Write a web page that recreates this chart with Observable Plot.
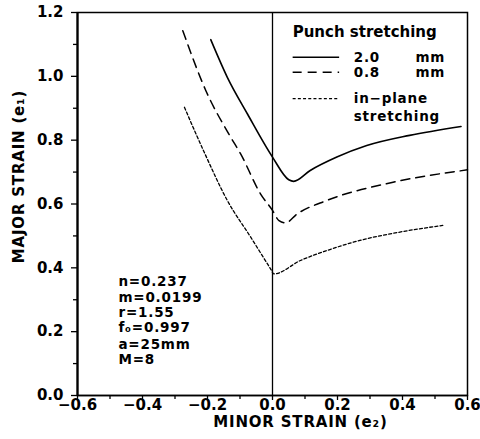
<!DOCTYPE html>
<html>
<head>
<meta charset="utf-8">
<script src="https://cdn.jsdelivr.net/npm/d3@7"></script>
<script src="https://cdn.jsdelivr.net/npm/@observablehq/plot@0.6"></script>
<style>
  html, body { margin: 0; padding: 0; background: #fff; }
  .tight text { letter-spacing: 0.8px; }
</style>
</head>
<body>
<div id="chart"></div>
<script>
// Punch stretching, 2.0 mm (solid)
const solidX = [-0.19, -0.139, -0.077, 0.0, 0.05, 0.065, 0.116, 0.198, 0.29, 0.422, 0.58];
const solidY = [1.115, 0.997, 0.882, 0.747, 0.676, 0.671, 0.705, 0.747, 0.783, 0.815, 0.843];
// Punch stretching, 0.8 mm (dashed)
const dashX = [-0.276, -0.205, -0.129, -0.098, -0.037, 0.0, 0.02, 0.04, 0.076, 0.167, 0.371, 0.6];
const dashY = [1.143, 0.955, 0.81, 0.757, 0.632, 0.58, 0.548, 0.541, 0.569, 0.611, 0.668, 0.707];
// In-plane stretching (dotted)
const dotX = [-0.271, -0.21, -0.139, -0.067, -0.006, 0.004, 0.086, 0.167, 0.269, 0.392, 0.524];
const dotY = [0.903, 0.762, 0.611, 0.496, 0.397, 0.381, 0.423, 0.454, 0.486, 0.512, 0.533];

const xTicks = [-0.6, -0.4, -0.2, 0.0, 0.2, 0.4, 0.6];
const xMinor = [-0.5, -0.3, -0.1, 0.1, 0.3, 0.5];
const yTicks = [0.0, 0.2, 0.4, 0.6, 0.8, 1.0, 1.2];
const yMinor = [0.1, 0.3, 0.5, 0.7, 0.9, 1.1];

const paramLines = ["n=0.237", "m=0.0199", "r=1.55", "f₀=0.997", "a=25mm", "M=8"];
const paramY = [0.357, 0.308, 0.260, 0.213, 0.160, 0.113];

const legendTitle = "Punch stretching";
const legendLabels = ["2.0", "0.8", "in−plane"];
const legendUnits = ["mm", "mm", ""];
const legendY = [1.060, 1.013, 0.93];

const toRows = (xs, ys) => xs.map((x, i) => ({x, y: ys[i]}));
const solid = toRows(solidX, solidY);
const dashed = toRows(dashX, dashY);
const dotted = toRows(dotX, dotY);
const legendRows = legendLabels.map((label, i) => ({label, unit: legendUnits[i], y: legendY[i]}));

const font = "DejaVu Sans";
const fmt = d3.format(".1f");
const fs = 13.5;

const chart = Plot.plot({
  width: 480,
  height: 439,
  marginLeft: 77,
  marginRight: 13,
  marginTop: 12,
  marginBottom: 44,
  style: {fontFamily: font, fontWeight: "bold", fontSize: "15px", background: "#fff", color: "#000"},
  x: {domain: [-0.6, 0.6]},
  y: {domain: [0, 1.2]},
  marks: [
    Plot.axisX({ticks: xTicks, tickSize: 5, tickPadding: -1, tickFormat: fmt, fontSize: 15, fontWeight: "bold", label: null, strokeWidth: 1.3}),
    Plot.axisX({ticks: xMinor, tickSize: 4, tickFormat: () => "", label: null, strokeWidth: 1.3}),
    Plot.axisY({ticks: yTicks, tickSize: 6, tickPadding: 8, tickFormat: fmt, fontSize: 15, fontWeight: "bold", label: null, strokeWidth: 1.3}),
    Plot.axisY({ticks: yMinor, tickSize: 4, tickFormat: () => "", label: null, strokeWidth: 1.3}),
    Plot.frame({stroke: "#000", strokeWidth: 1.5}),
    Plot.ruleY([0], {stroke: "#000", strokeWidth: 1.5}),
    Plot.ruleX([-0.6], {stroke: "#000", strokeWidth: 2.2}),
    Plot.ruleX([0], {stroke: "#000", strokeWidth: 1.3}),
    Plot.line(solid, {x: "x", y: "y", stroke: "#000", strokeWidth: 1.6, curve: "monotone-x"}),
    Plot.line(dashed, {x: "x", y: "y", stroke: "#000", strokeWidth: 1.5, strokeDasharray: "9,6", curve: "monotone-x"}),
    Plot.line(dotted, {x: "x", y: "y", stroke: "#000", strokeWidth: 1.3, strokeDasharray: "3,2.2", curve: "monotone-x"}),
    // Legend
    Plot.text([legendTitle], {x: 0.062, y: 1.138, text: d => d, textAnchor: "start", fontSize: 15, fontWeight: "bold", fill: "#000"}),
    Plot.link([legendRows[0]], {x1: 0.062, x2: 0.205, y1: "y", y2: "y", stroke: "#000", strokeWidth: 1.5}),
    Plot.link([legendRows[1]], {x1: 0.062, x2: 0.205, y1: "y", y2: "y", stroke: "#000", strokeWidth: 1.5, strokeDasharray: "9,6"}),
    Plot.link([legendRows[2]], {x1: 0.062, x2: 0.205, y1: "y", y2: "y", stroke: "#000", strokeWidth: 1.3, strokeDasharray: "3,2.2"}),
    Plot.text(legendRows, {x: 0.25, y: "y", text: "label", textAnchor: "start", fontSize: fs, fontWeight: "bold", fill: "#000", className: "tight"}),
    Plot.text(legendRows, {x: 0.44, y: "y", text: "unit", textAnchor: "start", fontSize: fs, fontWeight: "bold", fill: "#000", className: "tight"}),
    Plot.text(["stretching"], {x: 0.25, y: 0.874, text: d => d, textAnchor: "start", fontSize: fs, fontWeight: "bold", fill: "#000", className: "tight"}),
    // Parameters
    Plot.text(paramLines, {x: -0.474, y: (d, i) => paramY[i], text: d => d, textAnchor: "start", fontSize: fs, fontWeight: "bold", fill: "#000", className: "tight"}),
    // Axis titles
    Plot.text(["MINOR STRAIN (e₂)"], {x: 0.086, frameAnchor: "bottom", dy: 31, text: d => d, textAnchor: "middle", fontSize: 15, fontWeight: "bold", fill: "#000", className: "tight"}),
    Plot.text(["MAJOR STRAIN (e₁)"], {y: 0.686, frameAnchor: "left", dx: -58, rotate: -90, text: d => d, textAnchor: "middle", fontSize: 15, fontWeight: "bold", fill: "#000", className: "tight"})
  ]
});
document.getElementById("chart").appendChild(chart);
</script>
</body>
</html>
